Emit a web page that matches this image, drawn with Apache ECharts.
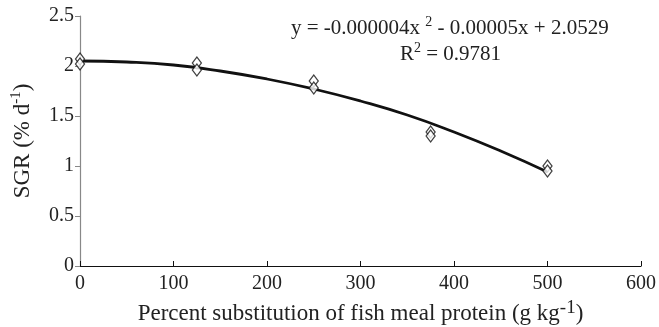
<!DOCTYPE html>
<html>
<head>
<meta charset="utf-8">
<script src="https://cdn.jsdelivr.net/npm/echarts@6/dist/echarts.min.js"></script>
<style>
html,body{margin:0;padding:0;background:#fff;}
#chart{width:659px;height:327px;}
</style>
</head>
<body>
<div id="chart"></div>
<script>
// measured SGR, two replicates per level
var levels=[0,125,250,375,500];
var sgrA=[2.07,2.03,1.85,1.34,1.00];
var sgrB=[2.02,1.96,1.78,1.30,0.95];
// trend line
var trendX=[0,50,100,150,200,250,300,350,400,450,500];
var trendY=[2.05,2.04,2.01,1.95,1.87,1.77,1.65,1.51,1.34,1.15,0.94];
var xTicks=[0,100,200,300,400,500,600];
var yTicks=[0,0.5,1,1.5,2,2.5];

var font='"Liberation Serif","DejaVu Serif",serif';
var pts=[];
for(var i=0;i<levels.length;i++){
	pts.push([levels[i],sgrA[i]]);
	pts.push([levels[i],sgrB[i]]);
}
var line=[];
for(var j=0;j<trendX.length;j++){line.push([trendX[j],trendY[j]]);}

var myChart=echarts.init(document.getElementById('chart'));
var option={
	animation:false,
	grid:{left:80,right:18,top:16,bottom:61,outerBoundsMode:'none',containLabel:false},
	xAxis:{
		type:'value',min:xTicks[0],max:xTicks[xTicks.length-1],interval:100,
		axisLine:{lineStyle:{color:'#111',width:1.2}},
		axisTick:{inside:true,length:5,lineStyle:{color:'#111'}},
		splitLine:{show:false},
		axisLabel:{fontFamily:font,fontSize:20,color:'#222',margin:8},
		name:'Percent substitution of fish meal protein (g kg{s|-1})',
		nameLocation:'middle',nameGap:31,
		nameTextStyle:{fontFamily:font,fontSize:23,color:'#222',
			rich:{s:{fontFamily:font,fontSize:19,color:'#222',padding:[0,0,12,0]}}}
	},
	yAxis:{
		type:'value',min:yTicks[0],max:yTicks[yTicks.length-1],interval:0.5,
		axisLine:{show:true,lineStyle:{color:'#888',width:1.2}},
		axisTick:{show:true,length:5,lineStyle:{color:'#888'}},
		splitLine:{show:false},
		axisLabel:{fontFamily:font,fontSize:20,color:'#222',margin:6},
		name:'SGR (% d{s|-1})',nameLocation:'middle',nameGap:44,
		nameTextStyle:{fontFamily:font,fontSize:23,color:'#222',
			rich:{s:{fontFamily:font,fontSize:15,color:'#222',padding:[0,0,12,0]}}}
	},
	graphic:[
		{type:'text',left:291,top:15,style:{text:'y = -0.000004x {s|2} - 0.00005x + 2.0529',font:'21px '+font,fill:'#222',
			rich:{s:{fontSize:14,fontFamily:font,fill:'#222',padding:[0,0,12,0]}}}},
		{type:'text',left:400,top:41,style:{text:'R{s|2} = 0.9781',font:'21px '+font,fill:'#222',
			rich:{s:{fontSize:14,fontFamily:font,fill:'#222',padding:[0,0,12,0]}}}}
	],
	series:[
		{type:'line',data:line,smooth:true,showSymbol:false,
			lineStyle:{color:'#111',width:2.8},z:2},
		{type:'scatter',data:pts,symbol:'diamond',symbolSize:[9,12],
			itemStyle:{color:'#fff',borderColor:'#111',borderWidth:1.3},z:3}
	]
};
myChart.setOption(option,true);
</script>
</body>
</html>
